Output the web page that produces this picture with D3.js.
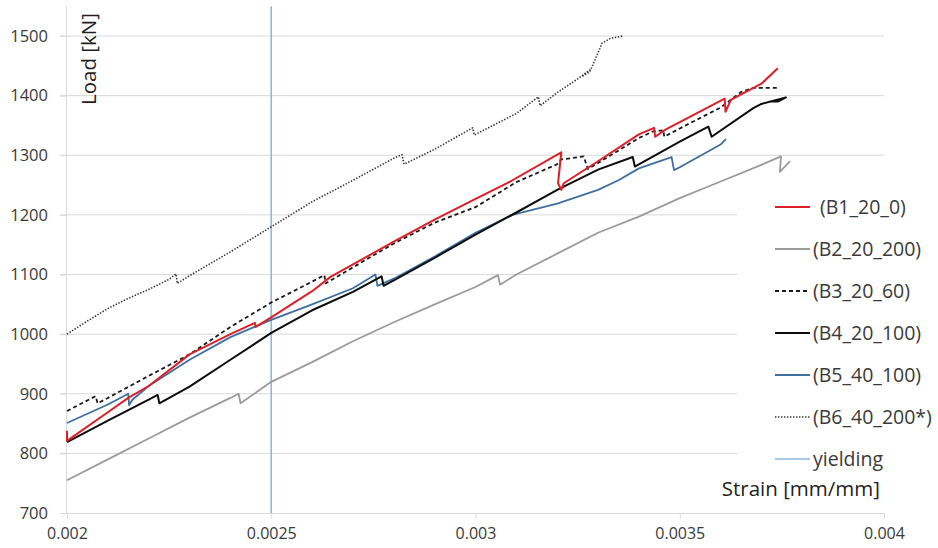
<!DOCTYPE html>
<html>
<head>
<meta charset="utf-8">
<script src="https://cdn.jsdelivr.net/npm/d3@7/dist/d3.min.js"></script>
<style>
  html, body { margin: 0; padding: 0; background: #fff; }
  svg { display: block; font-family: "Open Sans", "DejaVu Sans", sans-serif; }
</style>
</head>
<body>
<svg id="chart" width="938" height="548"></svg>
<script>
// ---------- DATA (strain [mm/mm], load [kN]) ----------
const xTicks = [0.002, 0.0025, 0.003, 0.0035, 0.004];
const xTickLabels = ["0.002", "0.0025", "0.003", "0.0035", "0.004"];
const yTicks = [700, 800, 900, 1000, 1100, 1200, 1300, 1400, 1500];
const yieldingStrain = 0.0025;

const seriesNames = ["(B1_20_0)", "(B2_20_200)", "(B3_20_60)", "(B4_20_100)", "(B5_40_100)", "(B6_40_200*)", "yielding"];

const B1 = [[0.002,838],[0.002,821],[0.0021,869],[0.00215,893],[0.0022,913],[0.0023,966],[0.0024,1000],
  [0.00246,1019],[0.002462,1012],[0.0025,1028],[0.0026,1072],[0.002645,1096],[0.0028,1155],[0.0029,1192],
  [0.003,1227],[0.00308,1254],[0.00321,1305],[0.003202,1253],[0.00321,1242],[0.003216,1253],[0.0033,1290],
  [0.0034,1335],[0.003437,1346],[0.00344,1331],[0.003465,1343],[0.00361,1395],[0.003612,1373],
  [0.003625,1393],[0.0037,1420],[0.00374,1446]];

const B2 = [[0.002,755],[0.0021,790],[0.0022,825],[0.0023,860],[0.0024,893],[0.00242,900],[0.002425,884],
  [0.0025,920],[0.0026,953],[0.0027,988],[0.0028,1020],[0.0029,1050],[0.003,1079],[0.003055,1099],
  [0.00306,1083],[0.0031,1100],[0.0032,1135],[0.0033,1170],[0.0034,1197],[0.0035,1228],[0.0036,1256],
  [0.0037,1284],[0.003748,1298],[0.003745,1272],[0.00377,1290]];

const B3 = [[0.002,871],[0.00207,896],[0.002075,884],[0.0021,893],[0.0022,930],[0.0023,966],[0.0024,1012],
  [0.0025,1053],[0.0026,1088],[0.00263,1099],[0.002633,1085],[0.0027,1112],[0.0028,1152],[0.0029,1187],
  [0.003,1213],[0.0031,1255],[0.0032,1285],[0.00321,1293],[0.003265,1298],[0.003275,1277],[0.0033,1287],
  [0.0034,1329],[0.003435,1340],[0.00346,1342],[0.003462,1331],[0.0035,1345],[0.0036,1380],[0.00365,1406],
  [0.00368,1413],[0.003745,1413]];

const B4 = [[0.002,819],[0.0021,855],[0.0022,890],[0.002222,898],[0.002226,884],[0.0023,912],[0.0024,957],
  [0.0025,1002],[0.0026,1040],[0.0027,1071],[0.00277,1097],[0.002775,1081],[0.0028,1090],[0.0029,1128],
  [0.003,1167],[0.0031,1204],[0.0032,1242],[0.0033,1276],[0.003385,1297],[0.00339,1281],[0.0035,1323],
  [0.00357,1348],[0.003578,1331],[0.00368,1379],[0.0037,1386],[0.00376,1397],[0.00374,1390],[0.00372,1390]];

const B5 = [[0.002,851],[0.0021,882],[0.00215,900],[0.002152,881],[0.00216,890],[0.0022,913],[0.0023,957],
  [0.0024,995],[0.0025,1024],[0.0026,1050],[0.0027,1077],[0.002755,1100],[0.00276,1081],[0.0028,1093],
  [0.0029,1130],[0.003,1170],[0.00309,1200],[0.0032,1219],[0.0033,1242],[0.00335,1258],[0.0034,1278],
  [0.00348,1297],[0.003486,1275],[0.0035,1280],[0.0036,1318],[0.003613,1327]];

const B6 = [[0.002,1000],[0.00205,1022],[0.0021,1043],[0.00215,1060],[0.0022,1075],[0.00225,1092],
  [0.002267,1101],[0.00227,1085],[0.0023,1098],[0.0024,1138],[0.0025,1180],[0.0026,1222],[0.0027,1258],
  [0.0028,1295],[0.00282,1301],[0.002825,1285],[0.0029,1310],[0.002993,1346],[0.002997,1334],
  [0.0031,1370],[0.003154,1398],[0.003158,1383],[0.0032,1405],[0.00325,1428],[0.00328,1443],
  [0.00326,1432],[0.00328,1440],[0.00331,1488],[0.00333,1496],[0.00336,1500]];

// ---------- LAYOUT ----------
const svg = d3.select("#chart");
const x = d3.scaleLinear().domain([0.002, 0.004]).range([67, 884]);
const y = d3.scaleLinear().domain([700, 1550]).range([513, 6.2]);

const gridColor = "#d9d9d9";
const textColor = "#3a3a3a";

// horizontal gridlines
svg.append("g").selectAll("line").data(yTicks.filter(d => d > 700)).join("line")
  .attr("x1", x(0.002) - 7).attr("x2", x(0.004))
  .attr("y1", d => y(d)).attr("y2", d => y(d))
  .attr("stroke", gridColor).attr("stroke-width", 1);

// y axis (line + labels)
const yAxis = d3.axisLeft(y).tickValues(yTicks).tickSize(7).tickPadding(12).tickFormat(d3.format("d"));
const gy = svg.append("g").attr("transform", `translate(${x(0.002)},0)`).call(yAxis);
gy.select(".domain").attr("d", `M-0.5,${y(1550)}V${y(700)}`).attr("stroke", gridColor);
gy.selectAll(".tick line").attr("stroke", gridColor);
gy.selectAll(".tick text").attr("fill", textColor).style("font-size", "16.5px")
  .style("font-family", '"Open Sans", sans-serif');

// x axis
const xAxis = d3.axisBottom(x).tickValues(xTicks).tickSize(6).tickPadding(9)
  .tickFormat((d, i) => xTickLabels[i]);
const gx = svg.append("g").attr("transform", `translate(0,${y(700)})`).call(xAxis);
gx.select(".domain").attr("d", `M${x(0.002)},0.5H${x(0.004)}`).attr("stroke", gridColor);
gx.selectAll(".tick line").attr("stroke", gridColor);
gx.selectAll(".tick text").attr("fill", textColor).style("font-size", "16px")
  .style("font-family", '"Open Sans", sans-serif');

// legend background (covers gridlines)
svg.append("rect").attr("x", 737).attr("y", 182).attr("width", 201).attr("height", 290).attr("fill", "#fff");

// yielding line
svg.append("line").attr("x1", x(yieldingStrain)).attr("x2", x(yieldingStrain))
  .attr("y1", y(1550)).attr("y2", y(700))
  .attr("stroke", "#8db4e2").attr("stroke-width", 1.6);

// series
const styles = [
  { data: B1, color: "#dc1f26", width: 2, dash: null },
  { data: B2, color: "#9b9b9b", width: 1.8, dash: null },
  { data: B3, color: "#1a1a1a", width: 1.8, dash: "4,3" },
  { data: B4, color: "#0d0d0d", width: 2, dash: null },
  { data: B5, color: "#3f6f9e", width: 1.8, dash: null },
  { data: B6, color: "#333333", width: 1.6, dash: "1.4,1.6" }
];
const line = d3.line().x(d => x(d[0])).y(d => y(d[1]));
const drawOrder = [5, 1, 4, 3, 2, 0];
drawOrder.forEach(i => {
  const s = styles[i];
  svg.append("path").datum(s.data).attr("d", line)
    .attr("fill", "none").attr("stroke", s.color).attr("stroke-width", s.width)
    .attr("stroke-linejoin", "round")
    .attr("stroke-dasharray", s.dash);
});

// legend
const legendStyles = styles.concat([{ color: "#8db4e2", width: 1.6, dash: null }]);
const lg = svg.append("g");
seriesNames.forEach((name, i) => {
  const cy = 207 + i * 42;
  const s = legendStyles[i];
  lg.append("line").attr("x1", 775).attr("x2", 810).attr("y1", cy).attr("y2", cy)
    .attr("stroke", s.color).attr("stroke-width", s.width).attr("stroke-dasharray", s.dash);
  lg.append("text").attr("x", i === 0 ? 820 : 813).attr("y", cy).attr("dy", "0.35em")
    .attr("fill", textColor).style("font-size", "19.5px").text(name);
});

// axis titles
svg.append("text").attr("transform", `translate(89,59) rotate(-90)`)
  .attr("text-anchor", "middle").attr("dy", "0.35em")
  .attr("fill", "#1f1f1f").style("font-size", "20.5px").text("Load [kN]");
svg.append("text").attr("x", 880).attr("y", 489).attr("dy", "0.35em")
  .attr("text-anchor", "end").attr("fill", "#1f1f1f").style("font-size", "20.5px").text("Strain [mm/mm]");
</script>
</body>
</html>
